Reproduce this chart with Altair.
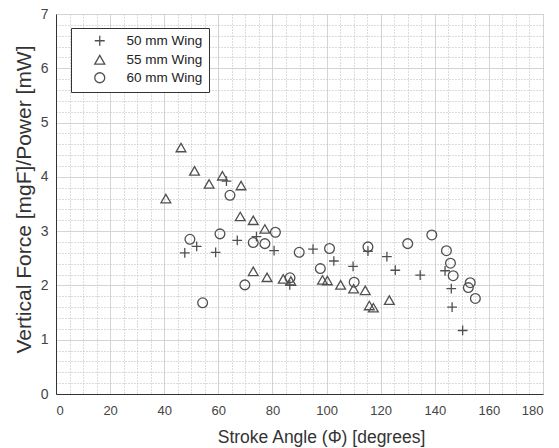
import altair as alt
import pandas as pd

# ---- data ----
x50 = [47.6, 52.0, 59.0, 63.0, 67.0, 74.1, 80.6, 86.4, 95.0, 102.7, 109.8, 115.3,
       122.3, 125.4, 134.6, 143.8, 146.1, 146.4, 150.3]
y50 = [2.60, 2.72, 2.61, 3.92, 2.83, 2.90, 2.64, 2.01, 2.67, 2.45, 2.35, 2.63,
       2.53, 2.28, 2.19, 2.27, 1.94, 1.60, 1.17]

x55 = [40.6, 46.2, 51.2, 56.6, 61.5, 68.4, 68.1, 72.9, 77.2, 72.9, 78.0, 84.0,
       86.8, 98.5, 100.3, 105.2, 110.0, 114.3, 115.8, 117.3, 123.2]
y55 = [3.60, 4.54, 4.11, 3.87, 4.02, 3.84, 3.27, 3.20, 3.04, 2.26, 2.15, 2.12,
       2.08, 2.10, 2.09, 2.01, 1.94, 1.91, 1.63, 1.59, 1.73]

x60 = [49.5, 54.2, 60.6, 64.3, 69.8, 72.9, 77.2, 81.1, 86.5, 89.9, 97.7, 101.1,
       110.2, 115.3, 130.0, 138.9, 144.3, 145.8, 146.8, 153.1, 152.4, 155.0]
y60 = [2.85, 1.68, 2.95, 3.66, 2.01, 2.79, 2.77, 2.98, 2.14, 2.61, 2.31, 2.68,
       2.06, 2.71, 2.77, 2.93, 2.64, 2.41, 2.18, 2.05, 1.96, 1.76]

series_names = ["50 mm Wing", "55 mm Wing", "60 mm Wing"]
x_major = list(range(0, 181, 20))
x_minor = list(range(0, 181, 5))
y_major = list(range(0, 8))
y_minor = [i / 5 for i in range(0, 36)]

rows = []
for name, xs, ys in zip(series_names, [x50, x55, x60], [y50, y55, y60]):
    for a, b in zip(xs, ys):
        rows.append({"angle": a, "ratio": b, "wing": name})
df = pd.DataFrame(rows)

FONT = "Liberation Sans"
xscale = alt.Scale(domain=[0, 180], nice=False, zero=False)
yscale = alt.Scale(domain=[0, 7], nice=False, zero=False)

minor = alt.Chart(df).mark_point(opacity=0).encode(
    x=alt.X("angle:Q", scale=xscale,
            axis=alt.Axis(values=x_minor, grid=True, gridDash=[1, 2], gridColor="#b8b8b8",
                          gridWidth=1, labels=False, ticks=False, domain=False, title=None,
                          orient="bottom")),
    y=alt.Y("ratio:Q", scale=yscale,
            axis=alt.Axis(values=y_minor, grid=True, gridDash=[1, 2], gridColor="#b8b8b8",
                          gridWidth=1, labels=False, ticks=False, domain=False, title=None,
                          orient="left")),
)

main = alt.Chart(df).mark_point(filled=False, strokeWidth=1.3, opacity=1).encode(
    x=alt.X("angle:Q", scale=xscale,
            axis=alt.Axis(values=x_major, grid=True, gridColor="#d4d4d4", gridWidth=1,
                          ticks=False, domain=True, domainColor="#333333", domainWidth=1,
                          labelFont=FONT, labelFontSize=13, labelColor="#444444",
                          labelPadding=10, orient="bottom",
                          title="Stroke Angle (Φ) [degrees]", titleFont=FONT,
                          titleFontSize=17.5, titleFontWeight="normal", titleColor="#333333",
                          titleX=265, titleY=43, titleBaseline="middle", titleAlign="center")),
    y=alt.Y("ratio:Q", scale=yscale,
            axis=alt.Axis(values=y_major, grid=True, gridColor="#d4d4d4", gridWidth=1,
                          ticks=False, domain=True, domainColor="#333333", domainWidth=1,
                          labelFont=FONT, labelFontSize=14, labelColor="#444444",
                          labelPadding=8, orient="left",
                          title="Vertical Force [mgF]/Power [mW]", titleFont=FONT,
                          titleFontSize=21, titleFontWeight="normal", titleColor="#333333",
                          titleX=-32, titleY=185, titleBaseline="middle", titleAlign="center",
                          titleAngle=270)),
    shape=alt.Shape("wing:N",
                    scale=alt.Scale(domain=series_names,
                                    range=["M-1,0L1,0M0,-1L0,1", "triangle-up", "circle"]),
                    legend=alt.Legend(title=None, orient="none", legendX=15, legendY=14,
                                      padding=6, symbolOffset=16, labelOffset=20,
                                      rowPadding=3, symbolSize=100, symbolStrokeWidth=1.3,
                                      symbolStrokeColor="#505050", symbolType="circle",
                                      labelFont=FONT, labelFontSize=13.5, labelColor="#222222",
                                      strokeColor="#333333", fillColor="white",
                                      cornerRadius=0)),
    color=alt.value("#505050"),
    size=alt.value(95),
)

chart = alt.layer(minor, main).resolve_axis(x="independent", y="independent").properties(
    width=487, height=380,
    autosize=alt.AutoSizeParams(type="none"),
    padding={"left": 56, "top": 14, "right": 16, "bottom": 54},
    background="white",
).configure_view(stroke="#cccccc", strokeWidth=1)

chart.save("out.html", embed_options={"renderer": "svg", "actions": False})
